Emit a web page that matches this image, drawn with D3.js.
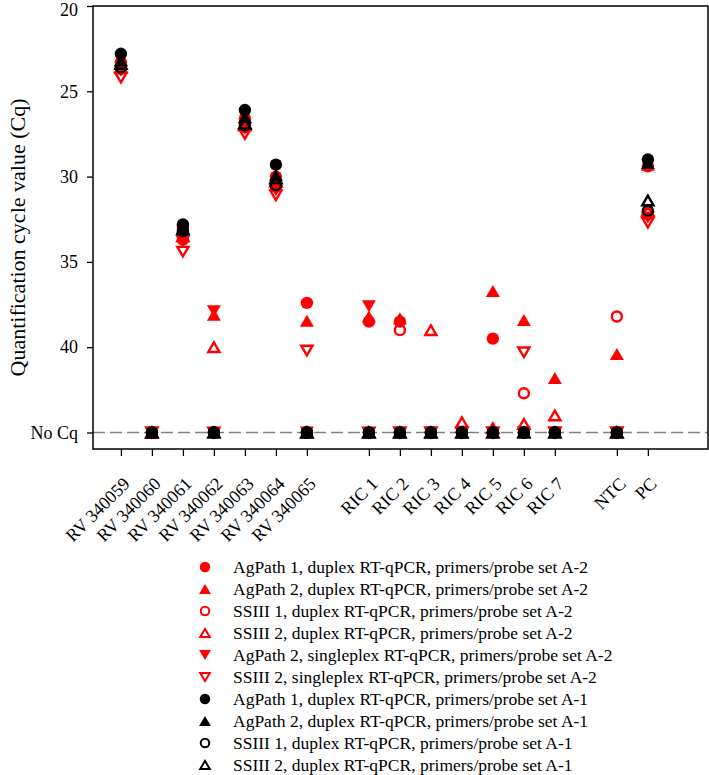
<!DOCTYPE html>
<html><head><meta charset="utf-8">
<script src="https://cdn.jsdelivr.net/npm/d3@7"></script>
<style>body{margin:0;background:#fff}svg{display:block;font-family:"Liberation Serif","Times New Roman",serif}</style>
</head><body><svg id="c" width="709" height="775"></svg>
<script>
// ---- data ----
const categories = ["RV 340059","RV 340060","RV 340061","RV 340062","RV 340063","RV 340064","RV 340065",
  "RIC 1","RIC 2","RIC 3","RIC 4","RIC 5","RIC 6","RIC 7","NTC","PC"];
const slots = ["RV 340059","RV 340060","RV 340061","RV 340062","RV 340063","RV 340064","RV 340065","gap1",
  "RIC 1","RIC 2","RIC 3","RIC 4","RIC 5","RIC 6","RIC 7","gap2","NTC","PC"];
const yTickValues = [20,25,30,35,40,45];
const yTickLabels = ["20","25","30","35","40","No Cq"];
const NO_CQ = 45;
const N = null; // no Cq
const seriesNames = [
  "AgPath 1, duplex RT-qPCR, primers/probe set A-2",
  "AgPath 2, duplex RT-qPCR, primers/probe set A-2",
  "SSIII 1, duplex RT-qPCR, primers/probe set A-2",
  "SSIII 2, duplex RT-qPCR, primers/probe set A-2",
  "AgPath 2, singleplex RT-qPCR, primers/probe set A-2",
  "SSIII 2, singleplex RT-qPCR, primers/probe set A-2",
  "AgPath 1, duplex RT-qPCR, primers/probe set A-1",
  "AgPath 2, duplex RT-qPCR, primers/probe set A-1",
  "SSIII 1, duplex RT-qPCR, primers/probe set A-1",
  "SSIII 2, duplex RT-qPCR, primers/probe set A-1"];
const agPath1A2   = [23.3,N,33.0,N,26.6,30.0,37.4,38.5,38.5,N,N,39.5,N,N,N,29.4];
const agPath2A2   = [23.4,N,33.2,38.1,26.8,30.2,38.45,38.2,38.3,N,N,36.7,38.4,41.8,40.4,29.3];
const ssiii1A2    = [23.7,N,33.7,N,27.1,30.6,N,N,39.0,N,N,N,42.7,N,38.2,32.2];
const ssiii2A2    = [23.6,N,33.5,40.0,27.0,30.3,N,N,N,39.0,44.4,44.75,44.5,44.0,N,32.0];
const agPath2SingleA2 = [23.8,N,33.8,37.9,27.2,30.8,N,37.6,N,N,N,N,N,N,N,32.4];
const ssiii2SingleA2  = [24.2,N,34.4,N,27.5,31.1,40.2,N,N,N,N,N,40.3,N,N,32.7];
const agPath1A1   = [22.8,N,32.8,N,26.1,29.3,N,N,N,N,N,N,N,N,N,29.0];
const agPath2A1   = [23.2,N,33.0,N,26.5,29.9,N,N,N,N,N,N,N,N,N,29.2];
const ssiii1A1    = [23.6,N,33.2,N,27.0,30.5,N,N,N,N,N,N,N,N,N,32.0];
const ssiii2A1    = [23.4,N,33.1,N,26.9,30.1,N,N,N,N,N,N,N,N,N,31.4];
const seriesValues = [agPath1A2,agPath2A2,ssiii1A2,ssiii2A2,agPath2SingleA2,ssiii2SingleA2,agPath1A1,agPath2A1,ssiii1A1,ssiii2A1];

// ---- styles ----
const styles = [
  {shape:"circle",fill:true,color:"#ff0000"},
  {shape:"up",fill:true,color:"#ff0000"},
  {shape:"circle",fill:false,color:"#ff0000"},
  {shape:"up",fill:false,color:"#ff0000"},
  {shape:"down",fill:true,color:"#ff0000"},
  {shape:"down",fill:false,color:"#ff0000"},
  {shape:"circle",fill:true,color:"#000"},
  {shape:"up",fill:true,color:"#000"},
  {shape:"circle",fill:false,color:"#000"},
  {shape:"up",fill:false,color:"#000"}];

const svg = d3.select("#c");
const L=93, R=708, T=6, B=449;
const x = d3.scalePoint().domain(slots).range([L,R]).padding(1.42).align(0.317);
const y = d3.scaleLinear().domain([20,46]).range([T, T+26*17.06]);

function drawMarker(g, st, cx, cy, scale){
  scale = scale||1;
  if(st.shape==="circle"){
    if(st.fill) g.append("circle").attr("cx",cx).attr("cy",cy).attr("r",6.2*scale).attr("fill",st.color);
    else g.append("circle").attr("cx",cx).attr("cy",cy).attr("r",5.0*scale).attr("fill","none").attr("stroke",st.color).attr("stroke-width",2.4*scale);
  } else {
    const dir = st.shape==="up"?1:-1;
    let w = st.fill?7*scale:5.6*scale, h = st.fill?6*scale:4.8*scale;
    const p = `M${cx-w},${cy+dir*h} L${cx+w},${cy+dir*h} L${cx},${cy-dir*h} Z`;
    if(st.fill) g.append("path").attr("d",p).attr("fill",st.color);
    else g.append("path").attr("d",p).attr("fill","none").attr("stroke",st.color).attr("stroke-width",2.4*scale).attr("stroke-linejoin","miter");
  }
}

// dashed No Cq line
svg.append("line").attr("x1",L).attr("x2",R).attr("y1",y(NO_CQ)).attr("y2",y(NO_CQ))
  .attr("stroke","#808080").attr("stroke-width",1.6).attr("stroke-dasharray","12,5");

// points
const pg = svg.append("g");
seriesValues.forEach((vals,si)=>{
  vals.forEach((v,ci)=>{
    drawMarker(pg, styles[si], x(categories[ci]), y(v===null?NO_CQ:v));
  });
});

// frame
svg.append("rect").attr("x",L).attr("y",T).attr("width",R-L).attr("height",B-T)
  .attr("fill","none").attr("stroke","#000").attr("stroke-width",1.5);

// y axis
const yAxis = d3.axisLeft(y).tickValues(yTickValues).tickSize(6).tickPadding(9)
  .tickFormat((d,i)=>yTickLabels[i]);
const ya = svg.append("g").attr("transform",`translate(${L},0)`).call(yAxis);
ya.select(".domain").remove();
ya.selectAll("line").attr("stroke","#000").attr("stroke-width",1.3);
ya.selectAll("text").attr("font-size",18).attr("font-family","Liberation Serif").attr("fill","#000")
  .attr("dy",(d)=>d===20?"0.55em":"0.32em");

// x axis
const xAxis = d3.axisBottom(x).tickValues(categories).tickSize(7).tickFormat("");
const xa = svg.append("g").attr("transform",`translate(0,${B})`).call(xAxis);
xa.select(".domain").remove();
xa.selectAll("line").attr("stroke","#000").attr("stroke-width",1.3);
svg.append("g").selectAll("text").data(categories).join("text")
  .attr("transform",d=>`translate(${x(d)+10},${B+36}) rotate(-45)`)
  .attr("text-anchor","end").attr("font-size",18).attr("fill","#000").text(d=>d);

// y title
svg.append("text").attr("transform",`translate(25,${(T+B)/2+10}) rotate(-90)`)
  .attr("text-anchor","middle").attr("font-size",22).attr("fill","#000")
  .text("Quantification cycle value (Cq)");

// legend
const lg = svg.append("g");
seriesNames.forEach((nm,i)=>{
  const ly = 567 + i*22;
  drawMarker(lg, styles[i], 205, ly, 0.85);
  lg.append("text").attr("x",233).attr("y",ly+6).attr("font-size",17.5).attr("fill","#000").text(nm);
});
</script></body></html>
